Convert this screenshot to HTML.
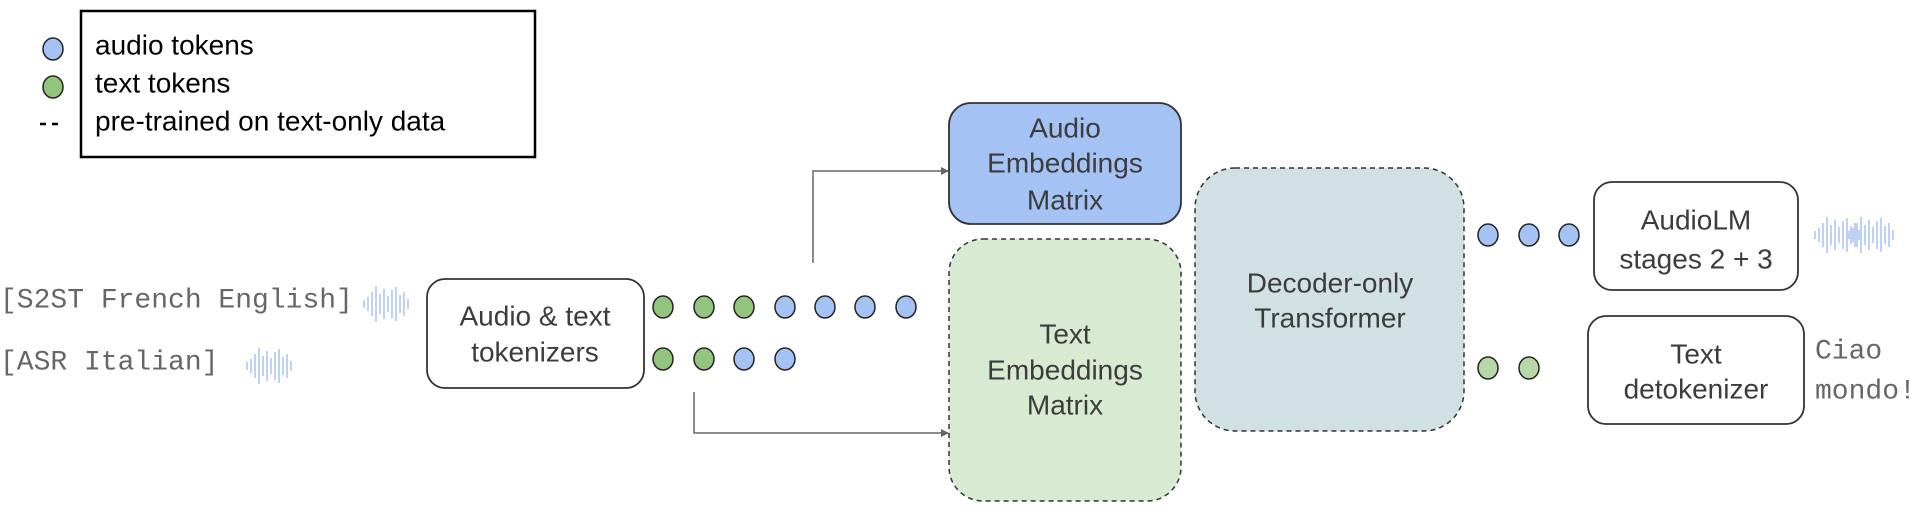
<!DOCTYPE html>
<html><head><meta charset="utf-8"><style>
body{margin:0;background:#fff;}
svg{display:block}
.s{font-family:"Liberation Sans",sans-serif;fill:#3c3c3c;font-size:28px;text-anchor:middle;dominant-baseline:central}
.m{font-family:"Liberation Mono",monospace;fill:#666;font-size:28px;dominant-baseline:central;font-weight:normal}
</style></head><body>
<svg width="1919" height="519" viewBox="0 0 1919 519" xmlns="http://www.w3.org/2000/svg">
<defs>
<marker id="a" markerWidth="8" markerHeight="8" refX="7" refY="4" orient="auto" markerUnits="userSpaceOnUse"><path d="M0,0 L8,4 L0,8z" fill="#666"/></marker>
<g id="w1" stroke="#b7cdf5" stroke-width="1.8">
<line x1="0" y1="-4" x2="0" y2="4"/><line x1="4" y1="-7" x2="4" y2="7"/><line x1="8" y1="-12" x2="8" y2="12"/><line x1="12" y1="-18" x2="12" y2="18"/><line x1="16" y1="-10" x2="16" y2="10"/><line x1="20" y1="-15" x2="20" y2="15"/><line x1="24" y1="-8" x2="24" y2="8"/><line x1="28" y1="-14" x2="28" y2="14"/><line x1="32" y1="-17" x2="32" y2="17"/><line x1="36" y1="-9" x2="36" y2="9"/><line x1="40" y1="-12" x2="40" y2="12"/><line x1="44" y1="-5" x2="44" y2="5"/>
</g>
</defs>
<rect x="81" y="11" width="454" height="146" fill="#fff" stroke="#000" stroke-width="2.5"/>
<ellipse cx="53" cy="49" rx="10" ry="11" fill="#a4c2f4" stroke="#222" stroke-width="1.5"/>
<ellipse cx="53" cy="87" rx="10" ry="11" fill="#93c47d" stroke="#222" stroke-width="1.5"/>
<line x1="40" y1="124" x2="62" y2="124" stroke="#000" stroke-width="2.5" stroke-dasharray="6,6"/>
<g font-family="Liberation Sans,sans-serif" font-size="28" fill="#000" dominant-baseline="central">
<text x="95" y="45">audio tokens</text><text x="95" y="83">text tokens</text><text x="95" y="121">pre-trained on text-only data</text></g>
<text class="m" x="0" y="301">[S2ST French English]</text>
<use href="#w1" x="364" y="304"/>
<text class="m" x="0" y="363">[ASR Italian]</text>
<use href="#w1" x="247" y="366"/>
<rect x="427" y="279" width="217" height="109" rx="18" fill="#fff" stroke="#333" stroke-width="1.8"/>
<text class="s" x="535" y="316">Audio &amp; text</text><text class="s" x="535" y="352">tokenizers</text>
<g stroke="#222" stroke-width="1.5">
<ellipse cx="663" cy="307" rx="10" ry="11" fill="#93c47d"/><ellipse cx="704" cy="307" rx="10" ry="11" fill="#93c47d"/><ellipse cx="744" cy="307" rx="10" ry="11" fill="#93c47d"/>
<ellipse cx="785" cy="307" rx="10" ry="11" fill="#a4c2f4"/><ellipse cx="825" cy="307" rx="10" ry="11" fill="#a4c2f4"/><ellipse cx="865" cy="307" rx="10" ry="11" fill="#a4c2f4"/><ellipse cx="906" cy="307" rx="10" ry="11" fill="#a4c2f4"/>
<ellipse cx="663" cy="359" rx="10" ry="11" fill="#93c47d"/><ellipse cx="704" cy="359" rx="10" ry="11" fill="#93c47d"/><ellipse cx="744" cy="359" rx="10" ry="11" fill="#a4c2f4"/><ellipse cx="785" cy="359" rx="10" ry="11" fill="#a4c2f4"/>
<ellipse cx="1488" cy="235" rx="10" ry="11" fill="#a4c2f4"/><ellipse cx="1529" cy="235" rx="10" ry="11" fill="#a4c2f4"/><ellipse cx="1569" cy="235" rx="10" ry="11" fill="#a4c2f4"/>
<ellipse cx="1488" cy="368" rx="10" ry="11" fill="#b6d7a8"/><ellipse cx="1529" cy="368" rx="10" ry="11" fill="#b6d7a8"/>
</g>
<path d="M813,263 V171 H948" fill="none" stroke="#666" stroke-width="1.5" marker-end="url(#a)"/>
<path d="M694,392 V433 H948" fill="none" stroke="#666" stroke-width="1.5" marker-end="url(#a)"/>
<rect x="949" y="103" width="232" height="121" rx="22" fill="#a4c2f4" stroke="#333" stroke-width="1.8"/>
<text class="s" x="1065" y="128">Audio</text><text class="s" x="1065" y="163">Embeddings</text><text class="s" x="1065" y="200">Matrix</text>
<rect x="949" y="239" width="232" height="262" rx="34" fill="#d9ead3" stroke="#333" stroke-width="1.5" stroke-dasharray="5,4"/>
<text class="s" x="1065" y="334">Text</text><text class="s" x="1065" y="370">Embeddings</text><text class="s" x="1065" y="405">Matrix</text>
<rect x="1195" y="168" width="269" height="263" rx="40" fill="#d0e0e3" stroke="#333" stroke-width="1.5" stroke-dasharray="5,4"/>
<text class="s" x="1330" y="283">Decoder-only</text><text class="s" x="1330" y="318">Transformer</text>
<rect x="1594" y="182" width="204" height="108" rx="18" fill="#fff" stroke="#333" stroke-width="1.8"/>
<text class="s" x="1696" y="220">AudioLM</text><text class="s" x="1696" y="259">stages 2 + 3</text>
<rect x="1588" y="316" width="216" height="108" rx="18" fill="#fff" stroke="#333" stroke-width="1.8"/>
<text class="s" x="1696" y="354">Text</text><text class="s" x="1696" y="389">detokenizer</text>
<use href="#w1" x="1815" y="235"/>
<use href="#w1" x="1849" y="235"/>
<text class="m" x="1815" y="352">Ciao</text><text class="m" x="1815" y="392">mondo!</text>
</svg>
</body></html>
